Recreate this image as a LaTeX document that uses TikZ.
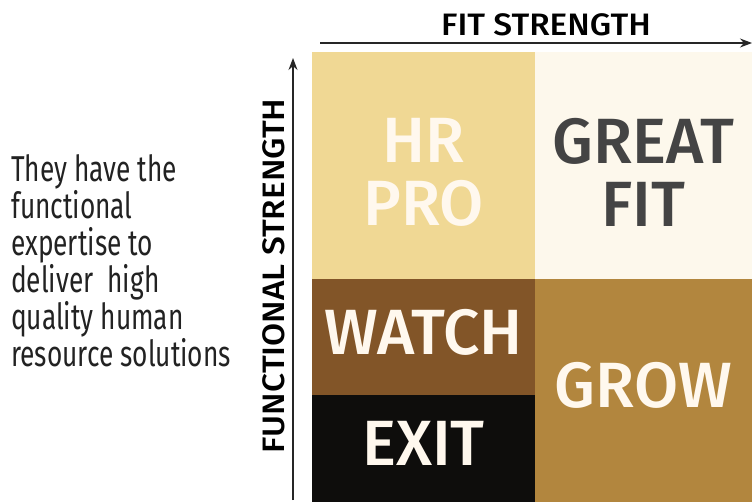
\documentclass[tikz,border=0pt]{standalone}
\usepackage{fontspec}
\setmainfont{Fira Sans}
\newfontfamily\din{Fira Sans Medium}
\newfontfamily\dinwide[FakeStretch=1.08]{Fira Sans Medium}
\newfontfamily\cond[FakeStretch=0.73]{Fira Sans}
\usetikzlibrary{arrows.meta}
\definecolor{hrpro}{HTML}{F0D894}
\definecolor{greatfit}{HTML}{FDF8EC}
\definecolor{watch}{HTML}{825528}
\definecolor{exit}{HTML}{0E0D0C}
\definecolor{grow}{HTML}{B2863E}
\definecolor{lbl}{HTML}{FFF8EE}
\definecolor{dark}{HTML}{444444}
\definecolor{txt}{HTML}{222222}
\begin{document}
\begin{tikzpicture}[x=1pt,y=-1pt,
  quad/.style={anchor=north west,inner sep=0pt,outer sep=0pt,draw=none},
  big/.style={font=\din\fontsize{64}{63}\selectfont,align=center,inner sep=0pt},
  axis/.style={font=\dinwide\fontsize{31}{32}\selectfont,text=black,inner sep=0pt},
  axarrow/.style={draw=black!85,line width=1.2pt,-{Stealth[length=12pt,width=9pt]}}]
\useasboundingbox (0,0) rectangle (752,502);
\fill[white] (0,0) rectangle (752,502);
% quadrants
\node[quad,fill=hrpro,minimum width=223pt,minimum height=227pt] (hr) at (312,52) {};
\node[quad,fill=greatfit,minimum width=217pt,minimum height=227pt] (gf) at (535,52) {};
\node[quad,fill=watch,minimum width=223pt,minimum height=116pt] (wa) at (312,279) {};
\node[quad,fill=exit,minimum width=223pt,minimum height=107pt] (ex) at (312,395) {};
\node[quad,fill=grow,minimum width=217pt,minimum height=223pt] (gr) at (535,279) {};
% labels
\node[big,text=lbl] (hrt) at ([yshift=-7pt]hr.center) {HR\\PRO};
\node[big,text=dark] (gft) at ([yshift=-7pt]gf.center) {GREAT\\FIT};
\node[big,text=lbl] (wat) at ([yshift=5pt]wa.center) {WATCH};
\node[big,text=lbl] (ext) at ([yshift=5pt]ex.center) {EXIT};
\node[big,text=lbl] (grt) at ([yshift=5pt]gr.center) {GROW};
% axes
\coordinate (hs) at (320,43);
\coordinate (he) at (752,43);
\coordinate (vs) at (293,500);
\coordinate (ve) at (293,58);
\draw[axarrow] (hs) -- (he);
\draw[axarrow] (vs) -- (ve);
\node[axis] (fit) at (546,25) {FIT STRENGTH};
\node[axis,rotate=90] (fun) at (274,276) {FUNCTIONAL STRENGTH};
% description
\node[anchor=north west,align=left,inner sep=0pt,text=txt,
  font=\cond\fontsize{36}{37}\selectfont] (desc) at (11,154)
  {They have the\\functional\\expertise to\\deliver\ \ high\\quality human\\resource solutions};
\end{tikzpicture}
\end{document}
